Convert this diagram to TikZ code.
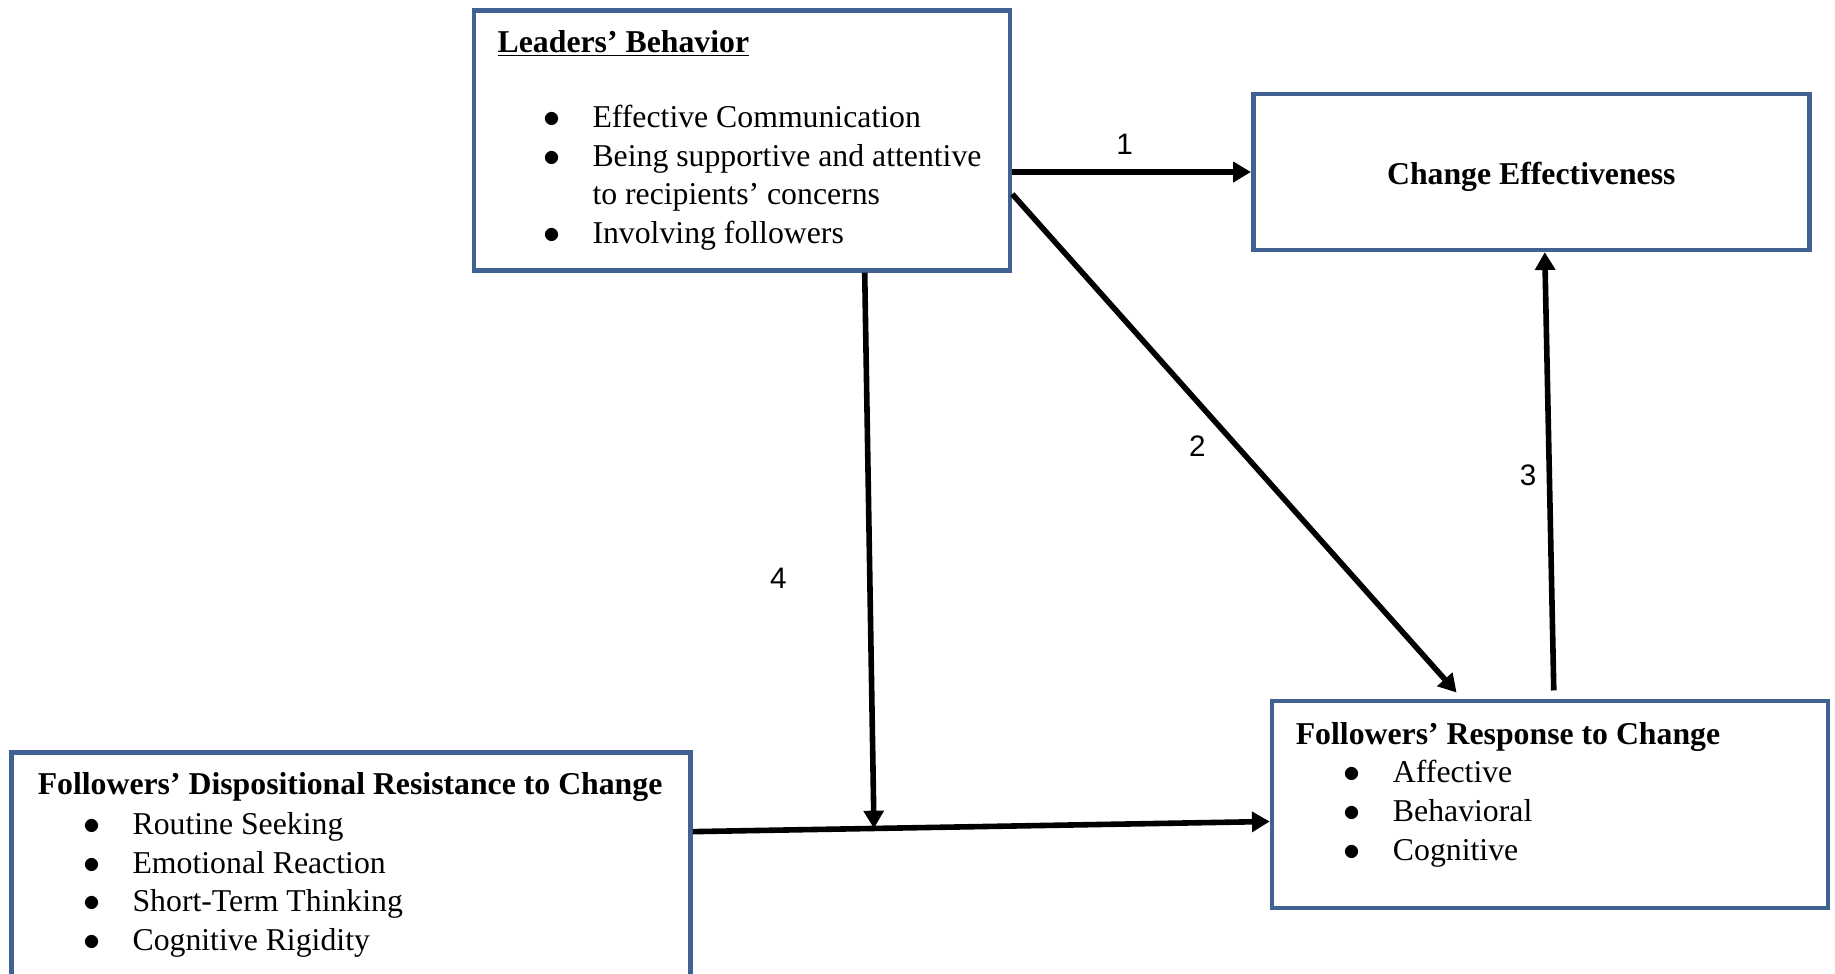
\documentclass[tikz,border=0pt]{standalone}
\usepackage{fontspec}
\setmainfont{Liberation Serif}
\newfontfamily\numfont{Liberation Sans}
\usetikzlibrary{arrows.meta,calc}

\definecolor{boxblue}{RGB}{63,98,146}
\newcommand{\bul}{\makebox[1.05cm][l]{$\bullet$}}

\tikzset{
  box/.style={draw=boxblue, line width=2.8pt, rectangle, inner sep=0pt},
  txt/.style={font=\fontsize{19.3}{23.5}\selectfont, inner sep=0pt, anchor=base west},
  link/.style={line width=3.4pt, -{Triangle[length=0.38cm,width=0.42cm]}},
  num/.style={font=\numfont\fontsize{18}{21}\selectfont}
}

\begin{document}
\begin{tikzpicture}[x=0.025cm, y=-0.025cm]

\clip (0,0) rectangle (1568,832);

% boxes
\node[box, minimum width=11.45cm, minimum height=5.55cm] (lead) at (634,120) {};
\node[box, minimum width=11.875cm, minimum height=3.325cm] (eff) at (1308.5,147) {};
\node[box, minimum width=11.875cm, minimum height=4.425cm] (resp) at (1324.5,687.5) {};
\node[box, minimum width=14.5cm, minimum height=5.175cm] (disp) at (300,746.5) {};

% box texts
\node[txt] (leadhead) at (425,45) {\textbf{\underline{Leaders’ Behavior}}};
\node[txt] (leadlist) at (464,109) {\begin{tabular}[t]{@{}l@{}}
  \bul Effective Communication\\
  \bul Being supportive and attentive\\
  \hspace{1.05cm}to recipients’ concerns\\
  \bul Involving followers
\end{tabular}};

\node[font=\fontsize{19.3}{23.5}\selectfont, yshift=-0.1cm] (efftext) at (eff) {\textbf{Change Effectiveness}};

\node[txt] (resphead) at (1107,636) {\textbf{Followers’ Response to Change}};
\node[txt] (resplist) at (1148,669) {\begin{tabular}[t]{@{}l@{}}
  \bul Affective\\
  \bul Behavioral\\
  \bul Cognitive
\end{tabular}};

\node[txt] (disphead) at (32,679) {\textbf{Followers’ Dispositional Resistance to Change}};
\node[txt] (displist) at (71,713) {\begin{tabular}[t]{@{}l@{}}
  \bul Routine Seeking\\
  \bul Emotional Reaction\\
  \bul Short-Term Thinking\\
  \bul Cognitive Rigidity
\end{tabular}};

% connector ends
\coordinate (p5a) at ($(disp.north east)!0.33!(disp.south east)$);
\coordinate (p5b) at ($(resp.north west)!0.58!(resp.south west)$);
\coordinate (p4) at ($(p5a)!0.314!(p5b)$);

% arrows
\draw[link] (lead.east |- eff.west) -- node[num, above=0.2cm, pos=0.47] {1} (eff.west);
\draw[link, shorten >=0.175cm] ($(lead.north east)!0.703!(lead.south east)$)
  -- node[num, left=0.5cm, pos=0.5] {2} ($(resp.north west)!0.343!(resp.north east)$);
\draw[link, shorten <=0.175cm] ($(resp.north west)!0.507!(resp.north east)$)
  -- node[num, left=0.1cm, pos=0.5] {3} ($(eff.south west)!0.524!(eff.south east)$);
\draw[link] ($(lead.south west)!0.727!(lead.south east)$) -- node[num, left=1.6cm, pos=0.55] {4} (p4);
\draw[link] (p5a) -- (p5b);

\end{tikzpicture}
\end{document}
